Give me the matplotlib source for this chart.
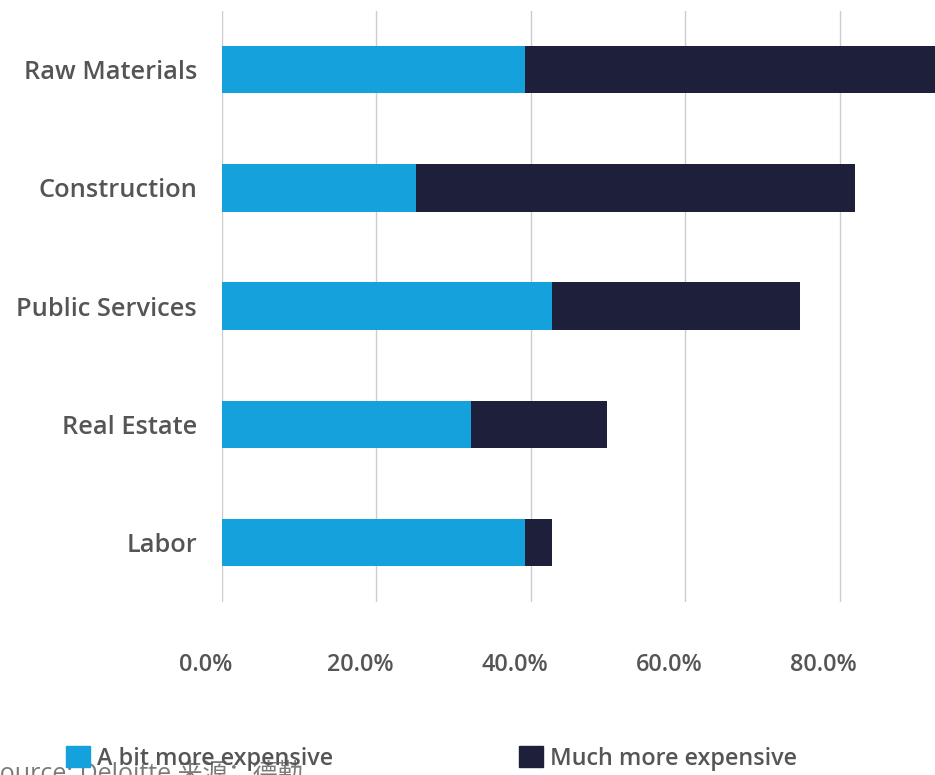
import numpy as np
import matplotlib.pyplot as plt
from matplotlib.patches import Patch
from matplotlib.transforms import ScaledTranslation

categories = ["Raw Materials", "Construction", "Public Services", "Real Estate", "Labor"]
bit_more = [39.3, 25.1, 42.8, 32.2, 39.3]
much_more = [54.7, 56.9, 32.1, 17.7, 3.5]
xticks = [0, 20, 40, 60, 80]
series_names = ["A bit more expensive", "Much more expensive"]

light_blue = "#15A2DC"
navy = "#1D1F3B"
label_grey = "#555555"

plt.rcParams["font.family"] = ["Open Sans", "Noto Sans CJK SC", "DejaVu Sans"]
plt.rcParams["font.weight"] = "semibold"

W, H = 935, 775
fig = plt.figure(figsize=(W / 100, H / 100), dpi=100)
# axes run past the right edge, so the longest bar gets cut by the canvas
ax = fig.add_axes([222 / W, 1 - 601.6 / H, 772 / W, 591 / H])

y = np.arange(len(categories))
ax.barh(y, bit_more, height=0.4, color=light_blue, label=series_names[0], zorder=3)
ax.barh(y, much_more, left=bit_more, height=0.4, color=navy, label=series_names[1], zorder=3)

ax.set_xlim(0, 100)
ax.set_ylim(len(categories) - 0.5, -0.5)
ax.set_yticks(y)
ax.set_yticklabels(categories, fontsize=18.3, color=label_grey)
ax.set_xticks(xticks)
ax.set_xticklabels([f"{v:.1f}%" for v in xticks], fontsize=16.8, color=label_grey)
ax.tick_params(axis="y", length=0, pad=18)
ax.tick_params(axis="x", length=0, pad=37)
# percent labels sit a little left of their gridlines
shift = ScaledTranslation(-16 / 100, 0, fig.dpi_scale_trans)
for lbl in ax.get_xticklabels():
    lbl.set_transform(lbl.get_transform() + shift)
ax.grid(axis="x", color="#CCCCCC", linewidth=1, zorder=0)
ax.axvline(100, color="#CCCCCC", linewidth=1, zorder=0)
for s in ax.spines.values():
    s.set_visible(False)

handles = [Patch(color=light_blue), Patch(color=navy)]
fig.legend(handles, series_names, loc="lower left", bbox_to_anchor=(57 / W, -5 / H),
           ncol=2, frameon=False, fontsize=16.8, labelcolor=label_grey,
           handlelength=1.03, handleheight=1.03, handletextpad=0.3, columnspacing=7.95,
           borderaxespad=0)

fig.text(-14 / W, -6 / H, "Source: Deloitte 来源：德勤", fontsize=18, color="#7A7A7A",
         fontweight="normal", ha="left", va="baseline")

fig.savefig("out.png", dpi=100)
